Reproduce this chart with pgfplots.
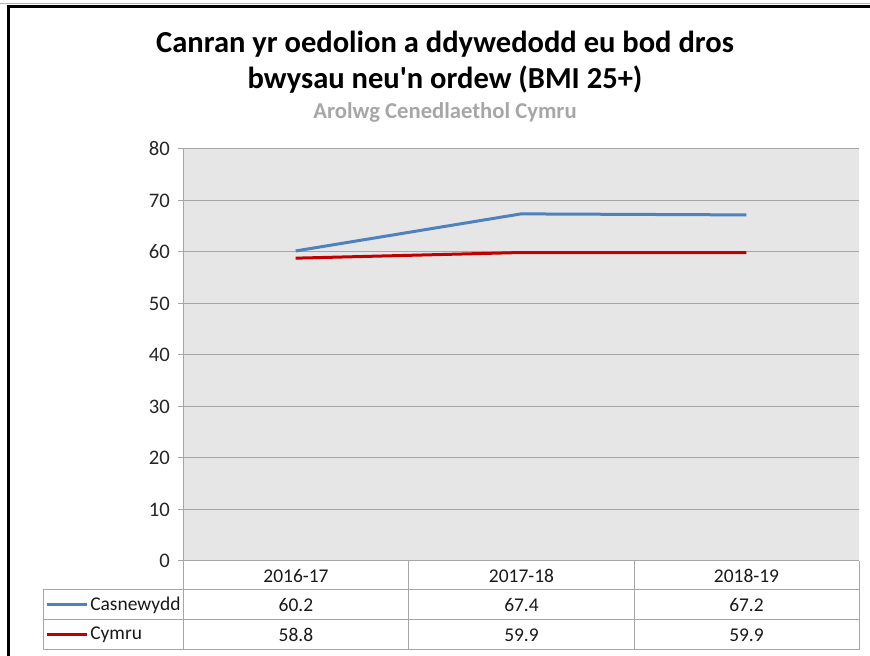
\documentclass[border=0pt]{standalone}
\usepackage{pgfplots}
\pgfplotsset{compat=1.18}
\usepackage{fontspec}
\setmainfont{Carlito}[Ligatures=TeXOff]
\definecolor{blueline}{HTML}{4F81BD}
\definecolor{redline}{HTML}{C00000}
\definecolor{bggray}{HTML}{E6E6E6}
\definecolor{gridgray}{HTML}{A6A6A6}
\definecolor{subgray}{HTML}{A6A6A6}
\begin{document}
\begin{tikzpicture}[x=0.75pt,y=0.75pt]
\useasboundingbox (0,0) rectangle (870,656);
% frame
\draw[gray!60, line width=0.75pt] (0,652) -- (870,652);
\fill[black] (7,650.5) rectangle (870,648);
\fill[black] (7,0) rectangle (10,650.5);
% titles
\node[anchor=base, inner sep=0pt, font=\fontsize{22.9}{26}\selectfont\bfseries] at (445,{656-53}) {Canran yr oedolion a ddywedodd eu bod dros};
\node[anchor=base, inner sep=0pt, font=\fontsize{22.9}{26}\selectfont\bfseries] at (445,{656-89}) {bwysau neu'n ordew (BMI 25+)};
\node[anchor=base, inner sep=0pt, text=subgray, font=\fontsize{17}{20}\selectfont\bfseries] at (445,{656-119}) {Arolwg Cenedlaethol Cymru};
\begin{axis}[
  at={(137.25pt,71.25pt)}, anchor=south west,
  scale only axis, width=507pt, height=309pt,
  xmin=-0.5, xmax=2.5, ymin=0, ymax=80,
  ytick={0,10,...,80}, xtick=\empty,
  ymajorgrids, grid style={color=gridgray, line width=0.75pt},
  axis background/.style={fill=bggray},
  axis x line=none,
  axis y line*=left,
  y axis line style={color=gridgray, line width=0.75pt, -},
  ytick style={color=gridgray, line width=0.75pt},
  tick align=outside, major tick length=3.75pt,
  yticklabel style={font=\fontsize{15.5}{17}\selectfont, text=black!85, inner sep=0pt, xshift=-6pt},
  /pgf/number format/assume math mode=true,
  clip=false,
]
\addplot[color=blueline, line width=2.25pt] coordinates {(0,60.2) (1,67.4) (2,67.2)};
\addplot[color=redline, line width=2.25pt] coordinates {(0,58.8) (1,59.9) (2,59.9)};
\end{axis}
% data table
\begin{scope}[gridgray, line width=0.75pt]
\draw (183,{656-561}) -- (859,{656-561});
\draw (43,{656-590}) -- (859,{656-590});
\draw (43,{656-620}) -- (859,{656-620});
\draw (43,{656-650}) -- (859,{656-650});
\draw (43,{656-590}) -- (43,{656-650});
\draw (183,{656-561}) -- (183,{656-650});
\draw (408.7,{656-561}) -- (408.7,{656-650});
\draw (634.3,{656-561}) -- (634.3,{656-650});
\draw (859,{656-561}) -- (859,{656-650});
\end{scope}
\draw[blueline, line width=2.25pt] (47,{656-605}) -- (87,{656-605});
\draw[redline, line width=2.25pt] (47,{656-635}) -- (87,{656-635});
\begin{scope}[every node/.style={inner sep=0pt, font=\fontsize{14.6}{17}\selectfont, text=black!90}]
\node[anchor=west] at (90,{656-605}) {Casnewydd};
\node[anchor=west] at (90,{656-635}) {Cymru};
\node at (296,{656-576}) {2016-17};
\node at (521.5,{656-576}) {2017-18};
\node at (746.5,{656-576}) {2018-19};
\node at (296,{656-605}) {60.2};
\node at (521.5,{656-605}) {67.4};
\node at (746.5,{656-605}) {67.2};
\node at (296,{656-635}) {58.8};
\node at (521.5,{656-635}) {59.9};
\node at (746.5,{656-635}) {59.9};
\end{scope}
\end{tikzpicture}
\end{document}
